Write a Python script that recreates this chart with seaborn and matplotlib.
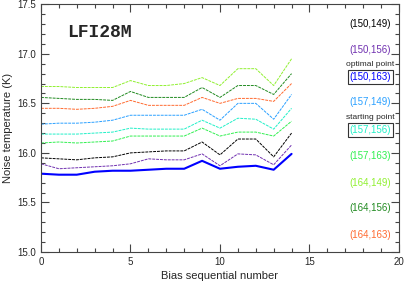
import matplotlib
matplotlib.use("Agg")
import matplotlib.pyplot as plt
import seaborn as sns
import pandas as pd
from matplotlib.ticker import MultipleLocator

# Bias sequential number
bias = list(range(15))

# Noise temperature (K) per bias pair
t_150_149 = [15.95, 15.94, 15.93, 15.95, 15.96, 16.00, 16.01, 16.02, 16.02, 16.11, 15.98, 16.14, 16.14, 15.96, 16.20]
t_150_156 = [15.89, 15.84, 15.85, 15.86, 15.87, 15.89, 15.94, 15.93, 15.93, 15.99, 15.87, 15.99, 15.98, 15.88, 16.08]
t_150_163 = [15.79, 15.78, 15.78, 15.81, 15.82, 15.82, 15.83, 15.84, 15.84, 15.92, 15.84, 15.86, 15.87, 15.83, 15.99]
t_157_149 = [16.29, 16.30, 16.30, 16.31, 16.33, 16.38, 16.38, 16.38, 16.38, 16.44, 16.33, 16.50, 16.50, 16.34, 16.59]
t_157_156 = [16.19, 16.19, 16.19, 16.20, 16.21, 16.25, 16.24, 16.24, 16.24, 16.33, 16.25, 16.35, 16.34, 16.24, 16.45]
t_157_163 = [16.10, 16.11, 16.10, 16.11, 16.12, 16.17, 16.17, 16.17, 16.17, 16.25, 16.17, 16.21, 16.21, 16.17, 16.32]
t_164_149 = [16.67, 16.67, 16.66, 16.66, 16.66, 16.73, 16.68, 16.68, 16.70, 16.76, 16.68, 16.85, 16.85, 16.68, 16.95]
t_164_156 = [16.56, 16.55, 16.54, 16.54, 16.53, 16.62, 16.56, 16.56, 16.56, 16.66, 16.56, 16.68, 16.68, 16.59, 16.80]
t_164_163 = [16.45, 16.45, 16.44, 16.45, 16.47, 16.53, 16.48, 16.48, 16.48, 16.56, 16.50, 16.55, 16.55, 16.52, 16.70]

labels = ["(150,149)", "(150,156)", "(150,163)", "(157,149)", "(157,156)",
          "(157,163)", "(164,149)", "(164,156)", "(164,163)"]
series = [t_150_149, t_150_156, t_150_163, t_157_149, t_157_156,
          t_157_163, t_164_149, t_164_156, t_164_163]
colors = ["#000000", "#7030b0", "#0000ff", "#2aa0ff", "#20f0c8",
          "#30f050", "#90f030", "#208a20", "#ff6a30"]

sns.set_style("ticks")
plt.rcParams["font.family"] = ["Liberation Sans", "DejaVu Sans"]

fig = plt.figure(figsize=(4.04, 2.86), dpi=100)
ax = fig.add_axes([0.1015, 0.119, 0.886, 0.866])

for lab, vals, col in zip(labels, series, colors):
    df = pd.DataFrame({"bias": bias, "temp": vals})
    if lab == "(150,163)":
        sns.lineplot(data=df, x="bias", y="temp", color=col, lw=1.5, ax=ax)
    else:
        sns.lineplot(data=df, x="bias", y="temp", color=col, lw=0.7,
                     linestyle=(0, (3, 1)), ax=ax)

# legend as coloured labels on the right
ypos = [17.30, 17.04, 16.77, 16.51, 16.23, 15.97, 15.70, 15.44, 15.17]
for lab, col, yy in zip(labels, colors, ypos):
    if lab in ("(150,163)", "(157,156)"):
        ax.text(18.4, yy, lab, color=col, fontsize=7, ha="center", va="center",
                bbox=dict(boxstyle="square,pad=0.2", fc="white", ec="#333333", lw=0.8))
    else:
        ax.text(18.4, yy, lab, color=col, fontsize=7, ha="center", va="center")
ax.text(18.4, 16.895, "optimal point", fontsize=6, ha="center", va="center")
ax.text(18.4, 16.355, "starting point", fontsize=6, ha="center", va="center")

ax.text(1.45, 17.22, "LFI28M", fontsize=13, fontweight="bold",
        family="Liberation Mono", va="center")

ax.set_xlim(0, 20)
ax.set_ylim(15.0, 17.5)
ax.xaxis.set_major_locator(MultipleLocator(5))
ax.xaxis.set_minor_locator(MultipleLocator(1))
ax.yaxis.set_major_locator(MultipleLocator(0.5))
ax.yaxis.set_minor_locator(MultipleLocator(0.1))
ax.yaxis.set_major_formatter(matplotlib.ticker.FormatStrFormatter("%.1f"))
ax.tick_params(which="both", direction="in", top=True, right=True,
               labelsize=7, width=0.8, color="#444444")
ax.tick_params(which="major", length=6)
ax.tick_params(which="minor", length=3)
for sp in ax.spines.values():
    sp.set_linewidth(0.8)
    sp.set_color("#444444")

ax.set_xlabel("Bias sequential number", fontsize=8, labelpad=3)
ax.set_ylabel("Noise temperature (K)", fontsize=8, labelpad=3)

fig.savefig("out.png", dpi=100)
